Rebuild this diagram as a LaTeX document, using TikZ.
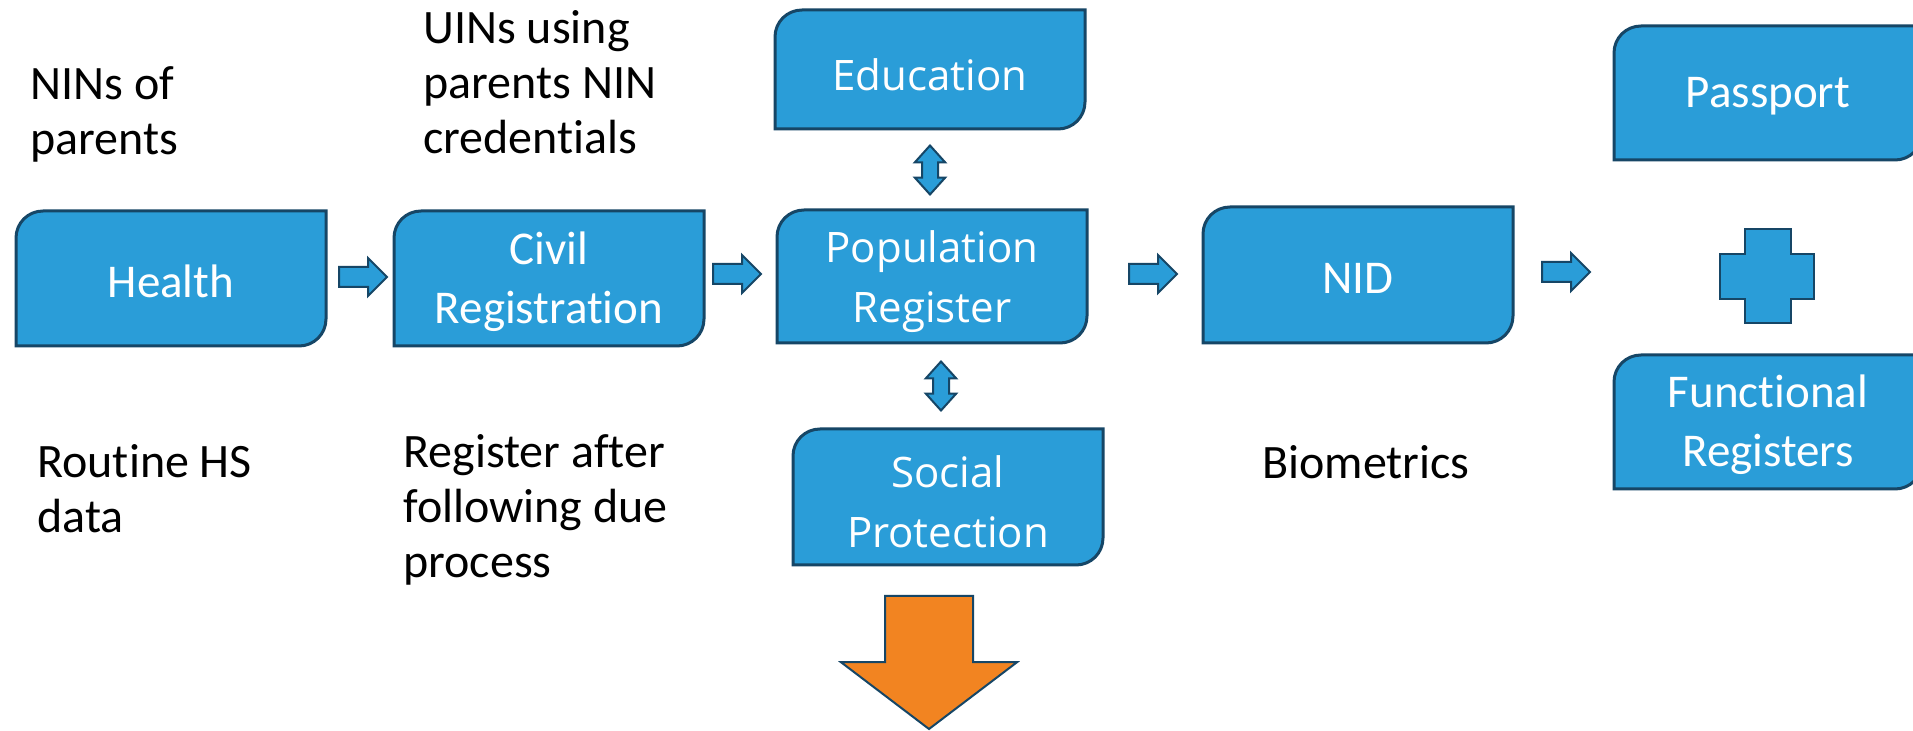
\documentclass[tikz,border=0pt]{standalone}
\usepackage{fontspec}
\setmainfont{Carlito}[Ligatures={NoCommon,NoContextual,NoRare}]
\newfontfamily\segoe{Open Sans}[Ligatures={NoCommon,NoContextual,NoRare}]
\usetikzlibrary{shapes.arrows}
\definecolor{boxc}{RGB}{42,157,216}
\definecolor{edgec}{RGB}{22,70,102}
\definecolor{orangec}{RGB}{242,132,33}
\tikzset{
  boxline/.style={draw=edgec, fill=boxc, line width=1.5pt},
  cal/.style={font=\fontsize{23.5}{29.5}\selectfont, yshift=-1.5pt},
  seg/.style={font=\segoe\fontsize{21}{30}\selectfont, yshift=-2.5pt},
  boxtext/.style={text=white, align=center, inner sep=0pt},
  lbl/.style={text=black, align=left, inner sep=0pt, anchor=west, font=\fontsize{24}{27.5}\selectfont},
  rarr/.style={single arrow, draw=edgec, fill=boxc, line width=1pt, inner sep=4.5pt,
    minimum height=24pt, minimum width=18pt, single arrow head extend=4.5pt,
    single arrow tip angle=90, anchor=tail},
  darr/.style={double arrow, draw=edgec, fill=boxc, line width=1pt, inner sep=3.5pt,
    minimum height=24.5pt, minimum width=14.5pt, double arrow head extend=3.6pt,
    double arrow tip angle=84, shape border rotate=90},
  downarr/.style={single arrow, draw=edgec, fill=orangec, line width=1pt, inner sep=21.5pt,
    minimum height=66.5pt, minimum width=87pt, single arrow head extend=22pt,
    single arrow tip angle=105.6, shape border rotate=270, anchor=tail}
}
% name, style, x1, y1, x2, y2, text
\newcommand{\rdbox}[7]{%
  \draw[boxline] (#3,#4+27) .. controls (#3,#4+12) and (#3+12,#4) .. (#3+27,#4)
    -- (#5,#4) -- (#5,#6-27) .. controls (#5,#6-12) and (#5-12,#6) .. (#5-27,#6)
    -- (#3,#6) -- cycle;
  \node[boxtext,#2] (#1) at ({(#3+#5)/2},{(#4+#6)/2}) {#7};%
}
\begin{document}
\begin{tikzpicture}[x=0.5pt,y=-0.5pt]
\clip (0,0) rectangle (1913,731);
\fill[white] (0,0) rectangle (1913,731);

\rdbox{health}{cal}{16}{211}{326}{346}{Health}
\rdbox{civil}{cal}{394}{211}{704}{346}{Civil\\Registration}
\rdbox{edu}{seg}{775}{10}{1085}{129}{Education}
\rdbox{pop}{seg}{777}{210}{1087}{343}{Population\\Register}
\rdbox{soc}{seg}{793}{429}{1103}{565}{Social\\Protection}
\rdbox{nid}{cal}{1203}{207}{1513}{343}{NID}
\rdbox{pass}{cal}{1614}{26}{1922}{160}{Passport}
\rdbox{func}{cal}{1614}{355}{1922}{489}{Functional\\Registers}

\node[rarr] (a1) at (338,277) {};
\node[rarr] (a2) at (712,274) {};
\node[rarr] (a3) at (1128,274) {};
\node[rarr] (a4) at (1541,272) {};
\node[darr] (d1) at (930,170) {};
\node[darr] (d2) at (941,386) {};
\node[downarr] (down) at (929,595) {};

\draw[boxline, line width=1.2pt] (1745,229) -- (1791,229) -- (1791,254) -- (1814,254) -- (1814,299)
  -- (1791,299) -- (1791,323) -- (1745,323) -- (1745,299) -- (1720,299) -- (1720,254)
  -- (1745,254) -- cycle;

\node[lbl] (nins) at (30,114) {NINs of\\parents};
\node[lbl] (uins) at (423,82) {UINs using\\parents NIN\\credentials};
\node[lbl] (hs) at (37,489) {Routine HS\\data};
\node[lbl] (due) at (403,510) {Register after\\following due\\process};
\node[lbl] (bio) at (1262,462) {Biometrics};
\end{tikzpicture}
\end{document}
